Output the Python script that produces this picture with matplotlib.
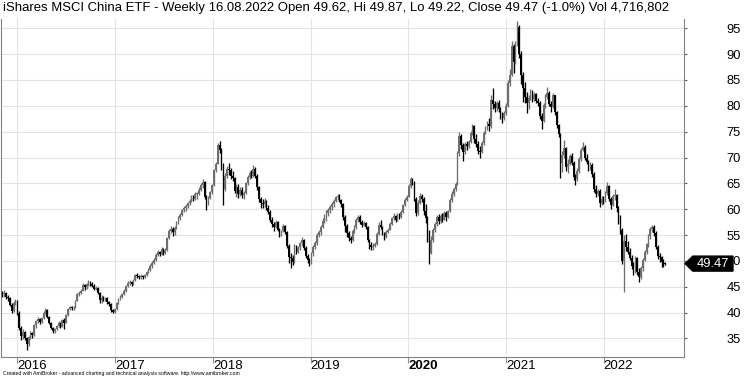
import numpy as np
import pandas as pd
import matplotlib
matplotlib.use('Agg')
import matplotlib.pyplot as plt
import matplotlib.dates as mdates
from matplotlib.patches import Polygon
from matplotlib.transforms import blended_transform_factory, ScaledTranslation

plt.rcParams['font.family'] = ['Liberation Sans', 'DejaVu Sans']

# weekly bars, first week ending 2015-11-06
first_open = 43.9
close = [
    43.5, 43.7, 43.0, 42.8, 41.5, 40.3, 41.8, 42.2,                     # 2015 Nov-Dec
    40.0, 37.0, 35.5, 36.2, 35.0, 34.0, 35.2, 36.0, 35.6,               # 2016
    37.5, 38.3, 38.8, 38.2, 38.9, 40.0, 40.4, 39.2, 38.0,
    37.0, 36.4, 36.8, 37.4, 38.0, 37.3, 38.5, 38.0,
    39.5, 40.6, 41.0, 40.8, 40.9, 42.3, 43.5, 43.8, 44.2,
    45.4, 44.9, 45.5, 45.9, 45.6, 45.2, 44.6, 44.8, 43.8,
    42.4, 42.9, 42.5, 42.8, 42.0, 41.6, 40.4, 40.1, 40.7,
    41.8, 42.7, 43.1, 43.5, 44.2, 45.2, 45.8, 46.0,                     # 2017
    45.6, 46.3, 47.2, 47.0, 46.8, 47.0, 46.8, 47.2, 47.8,
    48.3, 49.0, 49.6, 50.2, 51.2, 51.8, 51.4, 52.3, 51.6,
    52.2, 54.5, 55.8, 56.2, 55.5, 56.4, 57.5, 58.2,
    58.8, 59.8, 60.2, 60.6, 61.2, 61.6, 62.4, 62.0, 62.9,
    63.0, 63.8, 64.6, 65.2, 62.4, 61.0, 62.2, 63.3, 64.6,
    67.5, 68.8, 72.4, 71.5, 68.5, 64.0, 66.5, 67.8,                     # 2018
    67.6, 66.4, 66.0, 63.6, 64.2, 63.0, 63.8, 62.7, 63.2,
    65.0, 66.2, 67.0, 66.4, 67.8, 66.5, 64.2, 62.0, 61.2,
    61.0, 61.5, 60.2, 59.5, 58.0, 57.2, 56.5, 57.6, 56.0,
    55.2, 55.8, 56.8, 55.6, 52.8, 50.8, 50.5, 49.8,
    52.8, 51.8, 52.6, 53.4, 54.0, 52.4, 51.0, 50.2, 49.8,
    51.5, 52.6, 53.4, 55.0, 55.5, 56.6, 57.8, 58.5,                     # 2019
    59.2, 59.8, 60.4, 61.0, 61.6, 62.3, 62.6, 61.8, 61.0,
    58.5, 56.8, 55.4, 54.5, 54.0, 55.8, 56.6, 58.0, 58.4,
    57.6, 57.0, 57.4, 56.6, 54.0, 53.0, 52.6, 52.8, 53.2,
    55.2, 57.0, 56.6, 55.4, 54.6, 55.6, 56.0, 57.2,
    58.2, 58.6, 58.0, 58.8, 58.5, 59.5, 60.8, 61.8, 62.4,
    64.4, 65.8, 65.2, 62.0, 59.3, 61.2, 62.6, 62.0, 59.6,               # 2020
    58.2, 55.4, 51.5, 54.0, 56.0, 57.2, 58.4, 57.8,
    58.6, 58.0, 59.2, 58.4, 59.6, 61.8, 63.0, 64.0, 64.8,
    70.8, 74.2, 72.4, 71.0, 72.6, 72.2, 73.0, 74.8, 76.0,
    73.5, 72.6, 71.2, 71.0, 72.8, 74.8, 75.6, 76.4, 76.0,
    81.2, 80.4, 79.6, 80.6, 79.4, 78.2, 77.6, 78.6,
    80.0, 84.5, 86.0, 91.5, 88.5, 92.0, 95.2, 90.0, 86.0,               # 2021
    83.5, 81.8, 80.5, 81.6, 82.8, 81.4, 82.2, 81.0, 80.6,
    78.0, 77.0, 80.2, 81.8, 82.5, 80.4, 79.8, 82.0,
    78.8, 76.2, 74.5, 69.0, 70.4, 71.8, 68.2, 68.8, 70.2,
    69.0, 66.2, 65.8, 67.4, 69.8, 71.4, 72.0, 70.0, 69.2,
    68.0, 68.6, 66.8, 64.0, 63.0, 63.6, 61.2, 62.0, 61.6,
    63.2, 64.4, 62.0, 60.8, 62.5, 62.8, 60.2, 58.6,                     # 2022
    56.0, 50.0, 53.8, 52.6, 51.8, 50.6, 49.0, 48.2, 50.6,
    47.8, 46.8, 48.6, 50.2, 51.8, 53.2, 54.8, 56.2,
    56.6, 55.4, 52.6, 51.0, 50.8, 49.8, 49.6, 49.47,
]
high = [
    44.2, 44.3, 44.0, 43.4, 43.0, 41.8, 42.2, 42.7,
    42.5, 40.3, 37.4, 36.8, 36.5, 35.3, 35.5, 36.4, 36.3,
    37.8, 38.6, 39.1, 38.9, 39.2, 40.3, 40.9, 40.6, 39.4,
    38.2, 37.3, 37.1, 37.6, 38.3, 38.1, 38.7, 38.9,
    39.7, 40.8, 41.3, 41.2, 41.2, 42.5, 43.7, 44.1, 44.5,
    45.7, 45.6, 45.8, 46.3, 46.1, 45.9, 45.5, 45.2, 45.0,
    44.0, 43.4, 43.2, 43.1, 43.0, 42.3, 41.8, 40.7, 40.9,
    42.1, 42.9, 43.4, 43.8, 44.5, 45.4, 46.1, 46.3,
    46.2, 46.5, 47.5, 47.6, 47.2, 47.4, 47.3, 47.5, 48.0,
    48.6, 49.3, 49.9, 50.5, 51.5, 52.2, 52.0, 52.6, 52.5,
    52.5, 54.7, 56.1, 56.7, 56.6, 56.8, 57.8, 58.6,
    59.2, 60.1, 60.6, 61.0, 61.4, 62.0, 62.7, 62.8, 63.3,
    63.4, 64.2, 65.0, 65.8, 65.4, 62.8, 62.6, 63.6, 64.9,
    67.8, 69.2, 72.8, 73.2, 71.9, 69.0, 67.0, 68.4,
    69.0, 68.0, 67.4, 66.2, 64.8, 64.9, 64.3, 64.2, 63.6,
    65.3, 66.6, 67.4, 67.5, 68.5, 68.2, 66.8, 64.5, 62.4,
    61.9, 62.1, 61.7, 60.9, 59.8, 58.5, 57.6, 58.0, 57.8,
    56.3, 56.0, 57.2, 57.0, 55.8, 53.2, 51.6, 51.2,
    53.2, 53.1, 52.9, 53.7, 54.6, 54.3, 52.9, 51.3, 50.6,
    51.8, 53.0, 53.8, 55.3, 55.9, 56.9, 58.2, 59.0,
    59.8, 60.2, 60.8, 61.4, 61.9, 62.6, 62.9, 63.0, 62.0,
    61.2, 58.8, 57.2, 55.8, 54.9, 56.1, 56.9, 58.3, 58.9,
    58.8, 58.0, 57.8, 57.6, 56.8, 54.3, 53.6, 53.5, 53.6,
    55.5, 57.6, 57.9, 56.8, 55.6, 55.9, 56.4, 57.5,
    58.5, 59.2, 58.9, 59.2, 59.3, 59.8, 61.1, 62.2, 62.7,
    64.8, 66.3, 66.0, 65.5, 62.4, 61.7, 63.2, 63.0, 62.3,
    61.0, 58.6, 56.0, 54.8, 56.4, 57.6, 58.8, 59.0,
    59.0, 59.2, 59.6, 59.6, 59.9, 62.2, 63.5, 64.3, 65.2,
    71.2, 75.0, 74.6, 72.8, 73.0, 73.2, 73.4, 75.2, 76.4,
    76.2, 74.6, 73.2, 72.2, 73.1, 75.2, 76.0, 77.0, 77.6,
    82.0, 83.4, 81.0, 81.0, 81.2, 79.8, 78.8, 79.0,
    80.6, 85.0, 87.2, 92.6, 92.0, 92.5, 96.4, 95.6, 90.6,
    86.5, 84.6, 82.6, 82.1, 83.2, 83.0, 82.6, 82.4, 81.6,
    80.9, 78.6, 80.6, 82.3, 83.6, 82.8, 80.9, 82.4,
    82.1, 79.0, 76.4, 74.8, 71.2, 73.4, 72.0, 69.8, 70.6,
    70.8, 69.4, 66.8, 67.9, 70.1, 71.8, 73.0, 72.4, 70.6,
    69.6, 69.2, 68.9, 67.1, 64.6, 64.0, 63.9, 62.5, 62.6,
    63.6, 65.3, 64.6, 62.4, 62.9, 64.0, 62.9, 60.6,
    58.8, 56.4, 55.0, 55.2, 53.8, 52.4, 51.2, 49.8, 50.9,
    50.8, 48.6, 49.0, 50.6, 52.2, 53.5, 55.2, 56.6,
    57.0, 56.9, 55.8, 53.0, 51.6, 50.9, 50.4, 49.87,
]
low = [
    43.0, 43.1, 42.6, 42.3, 41.2, 39.9, 40.2, 41.5,
    39.6, 36.7, 34.6, 34.9, 34.7, 32.8, 33.6, 34.9, 35.1,
    35.4, 37.1, 38.0, 37.8, 37.9, 38.7, 39.7, 39.0, 37.8,
    36.8, 36.1, 36.1, 36.6, 37.2, 37.0, 37.2, 36.9,
    37.9, 39.4, 40.4, 40.4, 40.5, 40.8, 42.2, 43.2, 43.5,
    44.1, 44.4, 44.6, 45.2, 45.1, 44.9, 44.3, 44.3, 43.5,
    41.8, 41.9, 42.2, 42.3, 41.7, 41.3, 40.2, 39.9, 40.0,
    40.5, 41.6, 42.5, 42.8, 43.4, 44.0, 45.0, 45.4,
    45.2, 45.4, 46.2, 46.6, 46.4, 46.5, 46.4, 46.6, 47.0,
    47.6, 48.1, 48.6, 49.3, 50.0, 50.9, 51.0, 51.2, 51.2,
    51.3, 52.0, 54.2, 55.4, 54.8, 55.0, 56.1, 57.2,
    57.9, 58.6, 59.4, 59.6, 60.3, 60.8, 61.3, 61.5, 61.8,
    62.0, 62.7, 63.5, 64.1, 62.0, 59.8, 60.9, 62.0, 63.0,
    64.4, 67.2, 68.7, 70.8, 67.6, 60.8, 63.5, 66.0,
    66.6, 65.9, 65.5, 63.1, 62.4, 62.1, 62.5, 62.2, 62.0,
    63.0, 64.7, 65.9, 66.0, 66.2, 66.1, 63.8, 61.4, 60.3,
    60.2, 60.5, 59.8, 59.0, 57.6, 56.6, 55.7, 56.3, 55.7,
    54.6, 54.8, 55.5, 55.2, 52.4, 49.6, 48.6, 49.2,
    49.6, 51.3, 51.5, 52.2, 52.9, 52.1, 50.6, 49.6, 49.0,
    49.4, 51.0, 52.3, 53.0, 54.6, 55.0, 56.3, 57.4,
    57.8, 58.6, 59.2, 59.9, 60.5, 61.3, 61.8, 61.4, 60.5,
    58.0, 55.6, 54.6, 53.9, 53.4, 53.8, 55.4, 56.2, 57.6,
    57.2, 56.6, 56.7, 56.2, 53.6, 52.3, 52.1, 52.2, 52.6,
    53.0, 55.0, 56.2, 55.1, 54.0, 54.5, 55.4, 55.9,
    57.0, 57.9, 57.5, 57.8, 58.1, 58.2, 59.2, 60.6, 61.5,
    62.3, 64.1, 64.6, 61.6, 58.6, 58.9, 61.0, 61.4, 58.8,
    57.4, 53.6, 49.3, 51.4, 53.6, 55.5, 56.8, 57.2,
    57.4, 57.5, 57.9, 57.8, 58.2, 59.5, 61.4, 62.5, 63.6,
    64.6, 70.2, 71.6, 69.4, 70.7, 71.4, 71.8, 72.8, 74.4,
    72.8, 72.0, 70.6, 69.9, 70.8, 72.5, 74.5, 75.3, 75.2,
    75.8, 79.4, 78.9, 79.0, 78.8, 77.5, 76.7, 77.2,
    78.2, 79.8, 83.8, 85.8, 86.4, 88.0, 91.6, 89.2, 84.2,
    80.8, 80.6, 78.6, 79.4, 81.2, 80.8, 80.9, 80.6, 80.0,
    77.4, 75.6, 76.8, 79.6, 81.4, 80.0, 78.9, 79.5,
    78.2, 75.8, 73.9, 66.0, 67.2, 70.0, 67.4, 67.0, 68.5,
    68.6, 65.6, 64.7, 65.4, 67.0, 69.4, 71.2, 69.6, 68.8,
    67.3, 67.5, 66.2, 63.4, 62.4, 62.6, 60.5, 60.8, 61.0,
    61.4, 62.8, 61.6, 60.0, 60.6, 61.8, 59.4, 57.2,
    55.2, 49.4, 44.0, 52.0, 51.4, 50.2, 48.4, 47.3, 47.6,
    47.2, 46.0, 46.4, 48.1, 50.0, 51.4, 52.6, 54.3,
    55.6, 54.8, 52.3, 50.4, 49.8, 48.8, 48.9, 49.22,
]

years = ['2016', '2017', '2018', '2019', '2020', '2021', '2022']
price_ticks = [35, 40, 45, 50, 55, 60, 65, 70, 75, 80, 85, 90, 95]
title = ("iShares MSCI China ETF - Weekly 16.08.2022 Open 49.62, Hi 49.87, "
         "Lo 49.22, Close 49.47 (-1.0%) Vol 4,716,802")
last_close = close[-1]

c = np.array(close)
h = np.array(high)
l = np.array(low)
o = np.r_[first_open, c[:-1]]
dates = pd.date_range('2015-11-06', periods=len(c), freq='W-FRI')
x = mdates.date2num(dates)

fig = plt.figure(figsize=(7.44, 3.78), dpi=100)
ax = fig.add_axes([1 / 744, 21 / 378, 683 / 744, 338 / 378])

up = c >= o
cols = np.where(up, '#6e6e6e', '#000000')
ax.vlines(x, l, h, colors=cols, linewidth=0.95, zorder=3)
ax.bar(x, np.maximum(np.abs(c - o), 0.15), bottom=np.minimum(o, c),
       width=6, color=cols, linewidth=0, zorder=3)

ax.set_xlim(mdates.date2num(pd.Timestamp('2015-11-01')),
            mdates.date2num(pd.Timestamp('2022-10-28')))
ax.set_ylim(31.4, 96.8)

year_pos = [mdates.date2num(pd.Timestamp(y + '-01-01')) for y in years]
ax.set_xticks(year_pos)
ax.set_xticklabels(years, fontsize=9.5, ha='left')
shift = ScaledTranslation(2.5 / 72, 0, fig.dpi_scale_trans)
for lab in ax.get_xticklabels():
    lab.set_transform(lab.get_transform() + shift)
    if lab.get_text() == '2020':
        lab.set_fontweight('bold')
ax.tick_params(axis='x', length=4, width=0.8, color='#909090', pad=-1.5)

ax.yaxis.tick_right()
ax.set_yticks(price_ticks)
ax.set_yticklabels([str(v) for v in price_ticks], fontsize=9.3)
for lab in ax.get_yticklabels():
    lab.set_horizontalalignment('right')
ax.tick_params(axis='y', length=2.5, width=0.8, color='#606060', pad=38.5)

ax.grid(True, color='#e3e3e3', linewidth=0.8, zorder=0)
ax.set_axisbelow(True)
for side in ['left', 'right', 'bottom']:
    ax.spines[side].set_color('#808080')
ax.spines['top'].set_visible(False)

# last price marker (covers the 50 label as in the original)
tr = blended_transform_factory(ax.transAxes, ax.transData)
dy = 1.45
marker = Polygon([(1.0015, last_close), (1.013, last_close + dy), (1.0717, last_close + dy),
                  (1.0717, last_close - dy), (1.013, last_close - dy)],
                 closed=True, transform=tr, facecolor='black', edgecolor='black',
                 clip_on=False, zorder=10)
ax.add_patch(marker)
ax.text(1.043, last_close, f'{last_close:.2f}', transform=tr, color='white',
        fontsize=9.3, ha='center', va='center', zorder=11, clip_on=False)

fig.text(3 / 744, 1 - 8.5 / 378, title, fontsize=9.45, va='center', ha='left')
fig.text(3 / 744, 1 - 374 / 378,
         'Created with AmiBroker - advanced charting and technical analysis software. http://www.amibroker.com',
         fontsize=3.7, va='center', ha='left')

fig.savefig('out.png', dpi=100)
